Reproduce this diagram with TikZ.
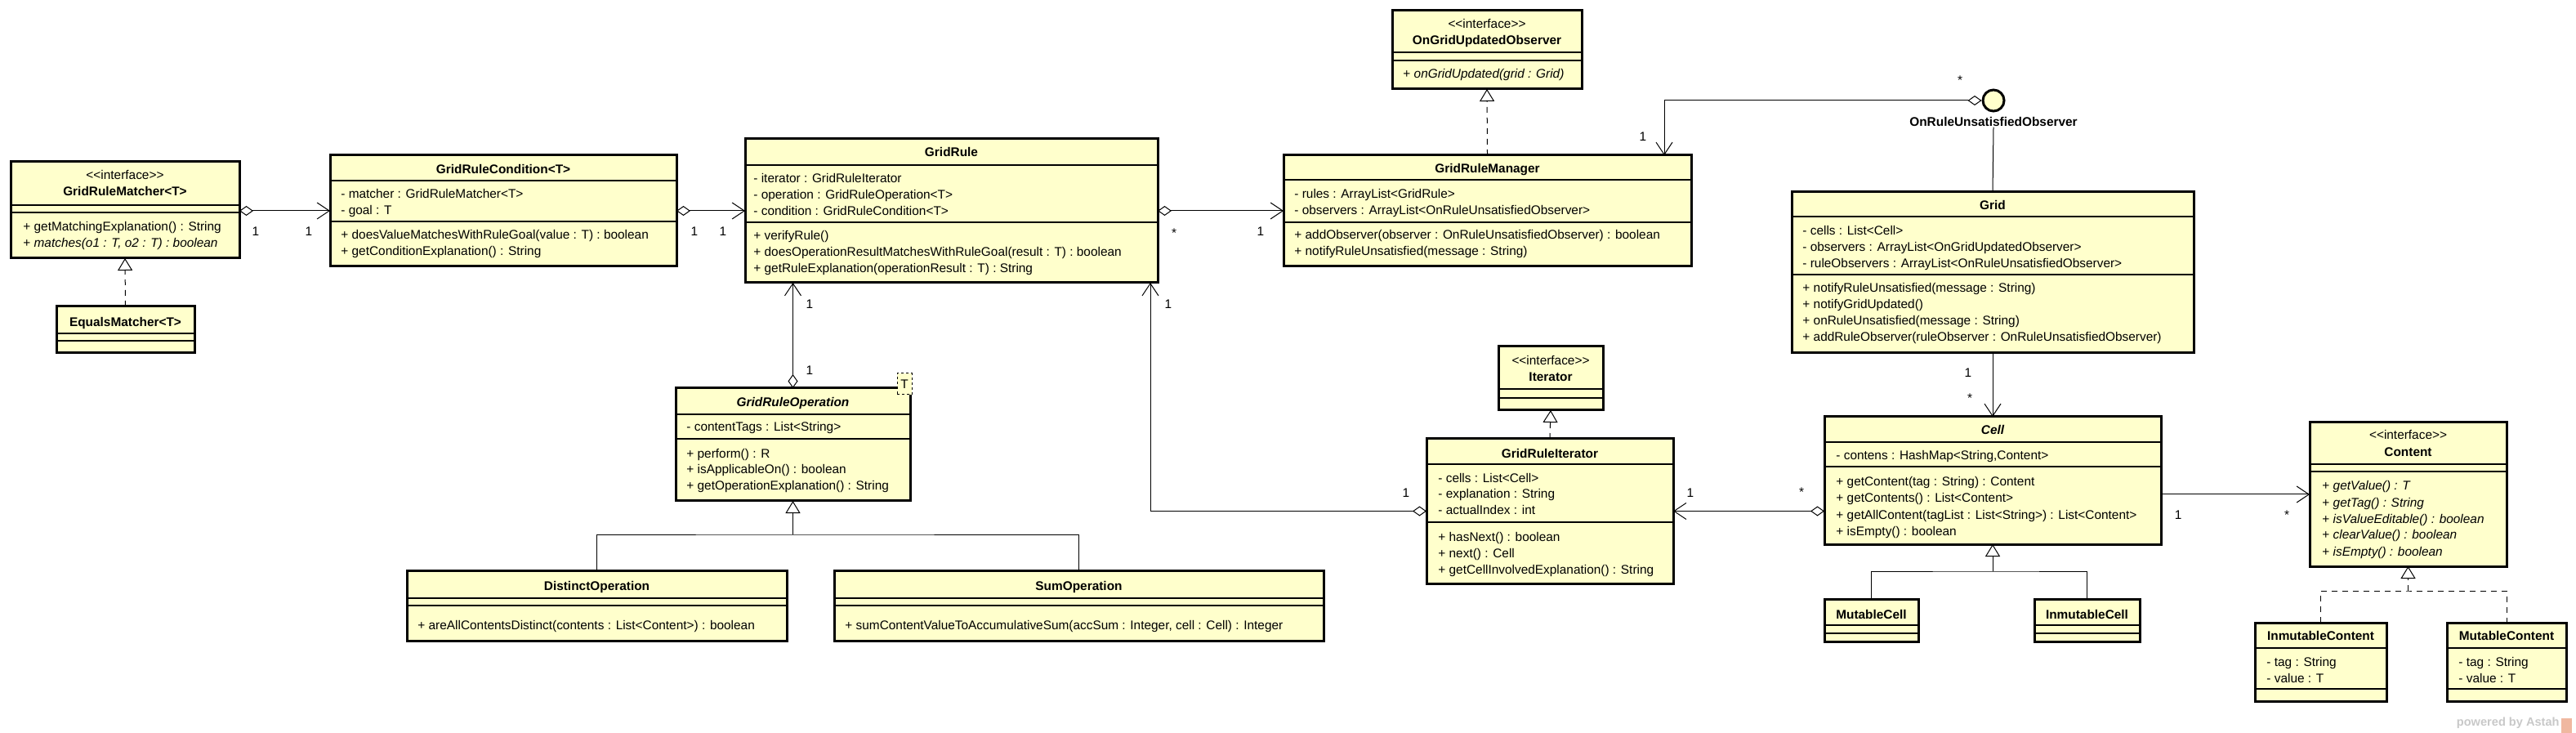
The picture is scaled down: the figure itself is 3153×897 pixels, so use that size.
\documentclass[tikz,border=0pt]{standalone}
\usepackage{fontspec}
\setmainfont{Liberation Sans}[Ligatures=TeXOff]
\usetikzlibrary{arrows.meta,calc}

\definecolor{classfill}{HTML}{FFFFCC}
\definecolor{astahgray}{HTML}{C8C8C8}
\definecolor{astahorange}{HTML}{F0B8A0}

% box of a class: name, left, top, right, bottom (pixels)
\newcommand{\classrect}[5]{%
	\pgfmathsetmacro{\boxw}{(#4-#2)*0.5}%
	\pgfmathsetmacro{\boxh}{(#5-#3)*0.5}%
	\node[classbox, anchor=north west, minimum width=\boxw pt, minimum height=\boxh pt] (#1) at (#2,#3) {};
}
% compartment line
\newcommand{\compline}[2]{\draw[sepline] (#1.west |- 0,#2) -- (#1.east |- 0,#2);}
% member lines: name, left, first baseline, list
\newcommand{\members}[4]{%
	\foreach \memb [count=\i] in {#4} {
		\node[txt, anchor=base west] (#1-\i) at (#2, #3+20*\i-20) {\memb};
	}
}

\tikzset{
	classbox/.style={draw, line width=1.5pt, fill=classfill, inner sep=0pt, outer sep=0pt},
	sepline/.style={line width=0.6pt},
	txt/.style={inner sep=0pt, font=\fontsize{7.7}{10}\selectfont},
	ttl/.style={inner sep=0pt, font=\fontsize{7.7}{10}\selectfont\bfseries},
	ttlit/.style={inner sep=0pt, font=\fontsize{7.7}{10}\selectfont\bfseries\itshape},
	mult/.style={inner sep=0pt, font=\fontsize{7.7}{10}\selectfont},
	assoc/.style={line width=0.5pt, -{Straight Barb[length=7.5pt,width=10pt]}},
	aggr/.style={line width=0.5pt, {Diamond[fill=white,length=8.5pt,width=6pt]}-{Straight Barb[length=7.5pt,width=10pt]}},
	inherit/.style={line width=0.5pt, -{Triangle[fill=white,length=7.5pt,width=9pt]}},
	realize/.style={inherit, dash pattern=on 3.5pt off 3pt},
	tree/.style={line width=0.5pt},
}

\begin{document}
\begin{tikzpicture}[x=0.5pt, y=-0.5pt]
	\useasboundingbox (0,0) rectangle (3153,897);

%matcher and condition
	\classrect{GRMatcher}{13}{198}{293}{316}
	\compline{GRMatcher}{251} \compline{GRMatcher}{260}
	\node[txt, anchor=base] (GRMatcher-st) at (153,220) {<<interface>>};
	\node[ttl, anchor=base] (GRMatcher-name) at (153,240) {GridRuleMatcher<T>};
	\members{GRMatcher-o}{28}{283}{+ getMatchingExplanation() : String, {+ \textit{matches(o1 : T, o2 : T) : boolean}}}

	\classrect{EqMatcher}{69}{375}{238}{432}
	\compline{EqMatcher}{408} \compline{EqMatcher}{417}
	\node[ttl, anchor=base] (EqMatcher-name) at (153.5,400) {EqualsMatcher<T>};

	\classrect{GRC}{404}{190}{828}{326}
	\compline{GRC}{221} \compline{GRC}{271}
	\node[ttl, anchor=base] (GRC-name) at (616,213) {GridRuleCondition<T>};
	\members{GRC-a}{417}{243}{- matcher : GridRuleMatcher<T>, - goal : T}
	\members{GRC-o}{417}{293}{+ doesValueMatchesWithRuleGoal(value : T) : boolean, + getConditionExplanation() : String}

%rule and manager
	\classrect{GR}{912}{170}{1417}{346}
	\compline{GR}{202} \compline{GR}{272}
	\node[ttl, anchor=base] (GR-name) at (1164.5,192) {GridRule};
	\members{GR-a}{922}{224}{- iterator : GridRuleIterator, - operation : GridRuleOperation<T>, - condition : GridRuleCondition<T>}
	\members{GR-o}{922}{294}{+ verifyRule(), + doesOperationResultMatchesWithRuleGoal(result : T) : boolean, + getRuleExplanation(operationResult : T) : String}

	\classrect{GRM}{1571}{190}{2070}{326}
	\compline{GRM}{220} \compline{GRM}{272}
	\node[ttl, anchor=base] (GRM-name) at (1820.5,212) {GridRuleManager};
	\members{GRM-a}{1584}{243}{- rules : ArrayList<GridRule>, - observers : ArrayList<OnRuleUnsatisfiedObserver>}
	\members{GRM-o}{1584}{293}{+ addObserver(observer : OnRuleUnsatisfiedObserver) : boolean, + notifyRuleUnsatisfied(message : String)}

	\classrect{OGUO}{1704}{13}{1936}{109}
	\compline{OGUO}{64} \compline{OGUO}{74}
	\node[txt, anchor=base] (OGUO-st) at (1820,35) {<<interface>>};
	\node[ttl, anchor=base] (OGUO-name) at (1820,55) {OnGridUpdatedObserver};
	\members{OGUO-o}{1717}{96}{{+ \textit{onGridUpdated(grid : Grid)}}}

%observer interface as lollipop
	\node[draw, circle, line width=1.5pt, fill=classfill, minimum size=13pt, inner sep=0pt] (ORUO) at (2440,123) {};
	\node[ttl, anchor=base] (ORUO-name) at (2440,155) {OnRuleUnsatisfiedObserver};

	\classrect{Grid}{2193}{235}{2685}{432}
	\compline{Grid}{265} \compline{Grid}{336}
	\node[ttl, anchor=base] (Grid-name) at (2439,257) {Grid};
	\members{Grid-a}{2206}{288}{- cells : List<Cell>, - observers : ArrayList<OnGridUpdatedObserver>, - ruleObservers : ArrayList<OnRuleUnsatisfiedObserver>}
	\members{Grid-o}{2206}{358}{+ notifyRuleUnsatisfied(message : String), + notifyGridUpdated(), + onRuleUnsatisfied(message : String), + addRuleObserver(ruleObserver : OnRuleUnsatisfiedObserver)}

%operations
	\classrect{GRO}{827}{475}{1114}{613}
	\compline{GRO}{507} \compline{GRO}{537}
	\node[ttlit, anchor=base] (GRO-name) at (970.5,498) {GridRuleOperation};
	\members{GRO-a}{840}{528}{- contentTags : List<String>}
	\members{GRO-o}{840}{560}{+ perform() : R, + isApplicableOn() : boolean, + getOperationExplanation() : String}
	\node[draw, dash pattern=on 1.5pt off 1.5pt, line width=0.5pt, fill=classfill, minimum width=9pt, minimum height=13pt, inner sep=0pt, font=\fontsize{7.7}{10}\selectfont] (GRO-T) at (1107,470) {T};

	\classrect{DistOp}{498}{698}{963}{784}
	\compline{DistOp}{732} \compline{DistOp}{741}
	\node[ttl, anchor=base] (DistOp-name) at (730.5,722) {DistinctOperation};
	\members{DistOp-o}{511}{770}{+ areAllContentsDistinct(contents : List<Content>) : boolean}

	\classrect{SumOp}{1021}{698}{1620}{784}
	\compline{SumOp}{732} \compline{SumOp}{741}
	\node[ttl, anchor=base] (SumOp-name) at (1320.5,722) {SumOperation};
	\members{SumOp-o}{1034}{770}{{+ sumContentValueToAccumulativeSum(accSum : Integer, cell : Cell) : Integer}}

%iterator
	\classrect{Iter}{1834}{424}{1962}{502}
	\compline{Iter}{476} \compline{Iter}{487}
	\node[txt, anchor=base] (Iter-st) at (1898,447) {<<interface>>};
	\node[ttl, anchor=base] (Iter-name) at (1898,467) {Iterator};

	\classrect{GRI}{1746}{537}{2048}{714}
	\compline{GRI}{568} \compline{GRI}{639}
	\node[ttl, anchor=base] (GRI-name) at (1897,560) {GridRuleIterator};
	\members{GRI-a}{1760}{590}{- cells : List<Cell>, - explanation : String, - actualIndex : int}
	\members{GRI-o}{1760}{662}{+ hasNext() : boolean, + next() : Cell, + getCellInvolvedExplanation() : String}

%cells
	\classrect{Cell}{2233}{510}{2645}{666}
	\compline{Cell}{541} \compline{Cell}{571}
	\node[ttlit, anchor=base] (Cell-name) at (2439,532) {Cell};
	\members{Cell-a}{2247}{563}{{- contens : HashMap<String,Content>}}
	\members{Cell-o}{2247}{595}{+ getContent(tag : String) : Content, + getContents() : List<Content>, + getAllContent(tagList : List<String>) : List<Content>, + isEmpty() : boolean}

	\classrect{MutCell}{2233}{733}{2348}{785}
	\compline{MutCell}{765} \compline{MutCell}{775}
	\node[ttl, anchor=base] (MutCell-name) at (2290.5,757) {MutableCell};

	\classrect{InmutCell}{2490}{733}{2619}{785}
	\compline{InmutCell}{765} \compline{InmutCell}{775}
	\node[ttl, anchor=base] (InmutCell-name) at (2554.5,757) {InmutableCell};

%contents
	\classrect{Content}{2827}{517}{3068}{693}
	\compline{Content}{568} \compline{Content}{577}
	\node[txt, anchor=base] (Content-st) at (2947.5,538) {<<interface>>};
	\node[ttl, anchor=base] (Content-name) at (2947.5,559) {Content};
	\members{Content-o}{2842}{600}{{+ \textit{getValue() : T}}, {+ \textit{getTag() : String}}, {+ \textit{isValueEditable() : boolean}}, {+ \textit{clearValue() : boolean}}, {+ \textit{isEmpty() : boolean}}}

	\classrect{InmutContent}{2760}{762}{2921}{858}
	\compline{InmutContent}{793} \compline{InmutContent}{843}
	\node[ttl, anchor=base] (InmutContent-name) at (2840.5,783) {InmutableContent};
	\members{InmutContent-a}{2774}{815}{- tag : String, - value : T}

	\classrect{MutContent}{2995}{762}{3141}{858}
	\compline{MutContent}{793} \compline{MutContent}{843}
	\node[ttl, anchor=base] (MutContent-name) at (3068,783) {MutableContent};
	\members{MutContent-a}{3009}{815}{- tag : String, - value : T}

%connectors
	\draw[aggr] (GRMatcher.east |- GRC.west) -- (GRC.west);
	\draw[aggr] (GRC.east) -- (GR.west);
	\draw[aggr] (GR.east) -- (GRM.west);
	\draw[realize] (EqMatcher.north) -- (GRMatcher.south);
	\draw[realize] (GRM.north) -- (OGUO.south);
	\draw[realize] (GRI.north) -- (Iter.south);

	\coordinate (bendObs) at (2037,123);
	\draw[aggr] (ORUO.west) -- (bendObs) -- (bendObs |- GRM.north);
	\draw[line width=0.5pt] (ORUO-name.south) -- (Grid.north);
	\draw[assoc] (Grid.south) -- (Cell.north);

	\draw[aggr] (GRO.north) -- (GRO.north |- GR.south);
	\coordinate (bendIter) at (1408,625.5);
	\draw[aggr] (GRI.west) -- (bendIter) -- (bendIter |- GR.south);
	\draw[aggr] (Cell.west |- GRI.east) -- (GRI.east);
	\draw[assoc] (Cell.east |- Content.west) -- (Content.west);

	\coordinate (joinOp) at (970.5,654);
	\draw[tree] (DistOp.north) |- (joinOp) -| (SumOp.north);
	\draw[inherit] (joinOp) -- (GRO.south);

	\coordinate (joinCell) at (2439,699);
	\draw[tree] (MutCell.north) |- (joinCell) -| (InmutCell.north);
	\draw[inherit] (joinCell) -- (Cell.south);

	\coordinate (joinContent) at (2947.5,723);
	\draw[tree, dash pattern=on 3.5pt off 3pt] (InmutContent.north) |- (joinContent) -| (MutContent.north);
	\draw[realize] (joinContent) -- (Content.south);

%multiplicities
	\node[mult] (m1) at (313,283) {1};
	\node[mult] (m2) at (378,283) {1};
	\node[mult] (m3) at (850,283) {1};
	\node[mult] (m4) at (885,283) {1};
	\node[mult] (m5) at (1437,285) {*};
	\node[mult] (m6) at (1543,283) {1};
	\node[mult] (m7) at (2399,98) {*};
	\node[mult] (m8) at (2011,167) {1};
	\node[mult] (m9) at (2409,456) {1};
	\node[mult] (m10) at (2411,487) {*};
	\node[mult] (m11) at (991,372) {1};
	\node[mult] (m12) at (991,453) {1};
	\node[mult] (m13) at (1430,372) {1};
	\node[mult] (m14) at (1721,603) {1};
	\node[mult] (m15) at (2205,602) {*};
	\node[mult] (m16) at (2069,603) {1};
	\node[mult] (m17) at (2666,630) {1};
	\node[mult] (m18) at (2799,630) {*};

%watermark
	\node[anchor=base east, inner sep=0pt, text=astahgray, font=\fontsize{7.3}{9}\selectfont\bfseries] (astah) at (3133,888) {powered by Astah};
	\node[fill=astahorange, minimum width=6.5pt, minimum height=9pt, inner sep=0pt, anchor=south west] (astahlogo) at (3135,897) {};
\end{tikzpicture}
\end{document}
